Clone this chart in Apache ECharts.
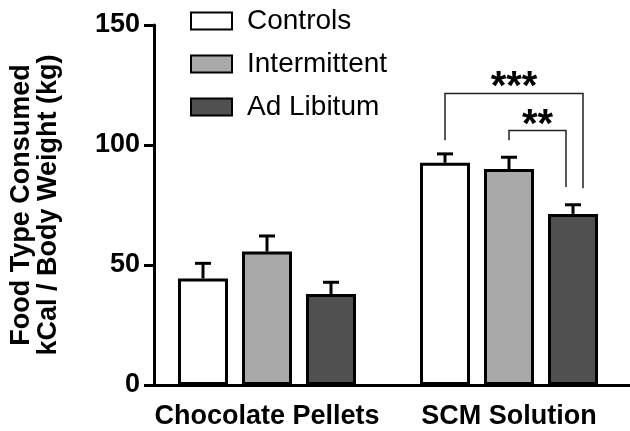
<!DOCTYPE html>
<html>
<head>
<meta charset="utf-8">
<script src="https://cdn.jsdelivr.net/npm/echarts@6/dist/echarts.min.js"></script>
<style>html,body{margin:0;padding:0;background:#fff}#c{width:630px;height:431px}</style>
</head>
<body>
<div id="c"></div>
<script>
const categories = ['Chocolate Pellets', 'SCM Solution'];
const seriesNames = ['Controls', 'Intermittent', 'Ad Libitum'];
const controls = [44.4, 92.6];
const intermittent = [55.6, 90.0];
const adLibitum = [37.9, 71.3];
const controlsErr = [6.3, 3.7];
const intermittentErr = [6.5, 4.9];
const adLibitumErr = [4.9, 3.8];
const yTicks = [0, 50, 100, 150];
// significance brackets on SCM Solution: [category, fromBar, toBar, top, leftEnd, rightEnd, label]
const brackets = [
  [1, 0, 2, 121.5, 102, 82, '***'],
  [1, 1, 2, 106, 102, 82.5, '**']
];

const FONT = 'Liberation Sans, Arial, Helvetica, sans-serif';
const BAR_W = 50, BAR_GAP = 14, BW = 3;
const PITCH = BAR_W + BAR_GAP;
const colors = ['#ffffff', '#a9a9a9', '#505050'];
const valueSets = [controls, intermittent, adLibitum];
const errSets = [controlsErr, intermittentErr, adLibitumErr];
const rightLegShift = [10, -7];

const chart = echarts.init(document.getElementById('c'), null, {renderer: 'canvas'});

const barSeries = seriesNames.map((n, i) => ({
  name: n, type: 'bar', barWidth: BAR_W, barGap: (BAR_GAP / BAR_W * 100) + '%',
  data: valueSets[i], z: 2,
  itemStyle: {color: colors[i], borderColor: '#000', borderWidth: BW}
}));

const errSeries = seriesNames.map((n, i) => ({
  type: 'custom', z: 3, silent: true,
  data: valueSets[i].map((v, k) => [k, v, errSets[i][k]]),
  renderItem: function (params, api) {
    const c = api.value(0), v = api.value(1), e = api.value(2);
    const p0 = api.coord([c, v]);
    const p1 = api.coord([c, v + e]);
    const x = p0[0] + (i - 1) * PITCH;
    return {type: 'group', children: [
      {type: 'line', shape: {x1: x, y1: p0[1], x2: x, y2: p1[1]}, style: {stroke: '#000', lineWidth: 3}},
      {type: 'line', shape: {x1: x - 8, y1: p1[1], x2: x + 8, y2: p1[1]}, style: {stroke: '#000', lineWidth: 3}}
    ]};
  }
}));

const bracketSeries = {
  type: 'custom', z: 4, silent: true,
  data: brackets,
  renderItem: function (params, api) {
    const b = brackets[params.dataIndex];
    const c = b[0];
    const pc = api.coord([c, b[3]]);
    const xl = pc[0] + (b[1] - 1) * PITCH;
    const xr = pc[0] + (b[2] - 1) * PITCH + rightLegShift[params.dataIndex];
    const yt = pc[1];
    const yl = api.coord([c, b[4]])[1];
    const yr = api.coord([c, b[5]])[1];
    return {type: 'group', children: [
      {type: 'polyline', shape: {points: [[xl, yl], [xl, yt], [xr, yt], [xr, yr]]},
        style: {stroke: '#222', lineWidth: 1.5, fill: null}},
      {type: 'text', style: {text: b[6], x: (xl + xr) / 2, y: yt + 15, align: 'center', verticalAlign: 'bottom',
        font: 'bold 40px ' + FONT, fill: '#000'}}
    ]};
  }
};

chart.setOption({
  animation: false,
  backgroundColor: '#fff',
  grid: {left: 144, top: 25, width: 488, bottom: 46, containLabel: false},
  legend: {
    data: seriesNames, orient: 'vertical', left: 185, top: 2, icon: 'rect',
    itemWidth: 41, itemHeight: 17, itemGap: 15,
    textStyle: {fontFamily: FONT, fontSize: 28, color: '#000', padding: [0, 0, 0, 10]},
    selectedMode: false
  },
  xAxis: {
    type: 'category', data: categories,
    axisLine: {lineStyle: {color: '#000', width: 3}},
    axisTick: {alignWithLabel: true, length: 9, lineStyle: {width: 3, color: '#000'}},
    axisLabel: {interval: 0, fontFamily: FONT, fontWeight: 'bold', fontSize: 27, color: '#000', margin: 18}
  },
  yAxis: {
    type: 'value', min: 0, max: 150, interval: 50, offset: -8,
    name: 'Food Type Consumed\nkCal / Body Weight (kg)',
    nameLocation: 'middle', nameGap: 92,
    nameTextStyle: {fontFamily: FONT, fontWeight: 'bold', fontSize: 27, lineHeight: 27, color: '#000'},
    splitLine: {show: false},
    axisLine: {show: true, lineStyle: {color: '#000', width: 3}},
    axisTick: {show: true, length: 10, lineStyle: {width: 3, color: '#000'}},
    axisLabel: {fontFamily: FONT, fontWeight: 'bold', fontSize: 27, color: '#000', margin: 14,
      formatter: v => yTicks.indexOf(v) >= 0 ? String(v) : ''}
  },
  series: [...barSeries, ...errSeries, bracketSeries]
});
</script>
</body>
</html>
